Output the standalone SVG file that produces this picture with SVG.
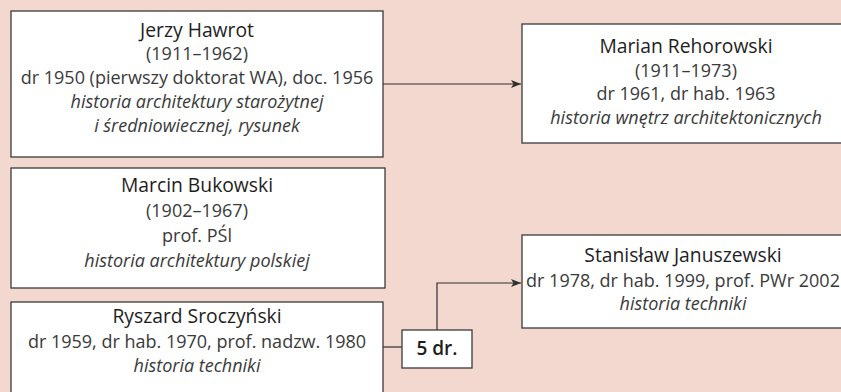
<svg xmlns="http://www.w3.org/2000/svg" width="841" height="392" viewBox="0 0 841 392">
  <style>
    .box { fill: #ffffff; stroke: #3a3a3a; stroke-width: 1.3; }
    .wire { fill: none; stroke: #2e2e2e; stroke-width: 1.2; }
    text { font-family: "Open Sans", "Noto Sans", sans-serif; font-size: 18px; fill: #3a3a3a; text-anchor: middle; }
    .name { fill: #1e1e1e; font-size: 19.3px; }
    .field { font-style: italic; }
    .count { fill: #1e1e1e; font-weight: 600; font-size: 19px; }
  </style>
  <defs>
    <marker id="arrow" viewBox="0 0 10 8" refX="10" refY="4" markerWidth="10" markerHeight="8" markerUnits="userSpaceOnUse" orient="auto">
      <path d="M0,0 L10,4 L0,8 L2.5,4 Z" fill="#2e2e2e"/>
    </marker>
  </defs>

  <rect width="841" height="392" fill="#f2d8ce"/>

  <g id="connectors">
    <path class="wire" d="M383,84 H521" marker-end="url(#arrow)"/>
    <path class="wire" d="M383,347 H402"/>
    <path class="wire" d="M437,330 V283 H521" marker-end="url(#arrow)"/>
  </g>

  <g id="hawrot">
    <rect class="box" x="11" y="11" width="372" height="146"/>
    <text class="name" x="197" y="37">Jerzy Hawrot</text>
    <text x="197" y="60">(1911–1962)</text>
    <text x="197" y="84">dr 1950 (pierwszy doktorat WA), doc. 1956</text>
    <text class="field" x="197" y="108">historia architektury starożytnej</text>
    <text class="field" x="197" y="132">i średniowiecznej, rysunek</text>
  </g>

  <g id="rehorowski">
    <rect class="box" x="522" y="24" width="340" height="119"/>
    <text class="name" x="686" y="53">Marian Rehorowski</text>
    <text x="686" y="77">(1911–1973)</text>
    <text x="686" y="100">dr 1961, dr hab. 1963</text>
    <text class="field" x="686" y="124">historia wnętrz architektonicznych</text>
  </g>

  <g id="bukowski">
    <rect class="box" x="11" y="168" width="374" height="120"/>
    <text class="name" x="197" y="192">Marcin Bukowski</text>
    <text x="197" y="217">(1902–1967)</text>
    <text x="197" y="242">prof. PŚl</text>
    <text class="field" x="197" y="267">historia architektury polskiej</text>
  </g>

  <g id="sroczynski">
    <rect class="box" x="11" y="302" width="372" height="100"/>
    <text class="name" x="197" y="323">Ryszard Sroczyński</text>
    <text x="197" y="348">dr 1959, dr hab. 1970, prof. nadzw. 1980</text>
    <text class="field" x="197" y="372">historia techniki</text>
  </g>

  <g id="doctorates">
    <rect class="box" x="402" y="330" width="70" height="38"/>
    <text class="count" x="437" y="355">5 dr.</text>
  </g>

  <g id="januszewski">
    <rect class="box" x="522" y="235" width="340" height="93"/>
    <text class="name" x="683" y="262">Stanisław Januszewski</text>
    <text x="683" y="287">dr 1978, dr hab. 1999, prof. PWr 2002</text>
    <text class="field" x="683" y="310">historia techniki</text>
  </g>
</svg>
